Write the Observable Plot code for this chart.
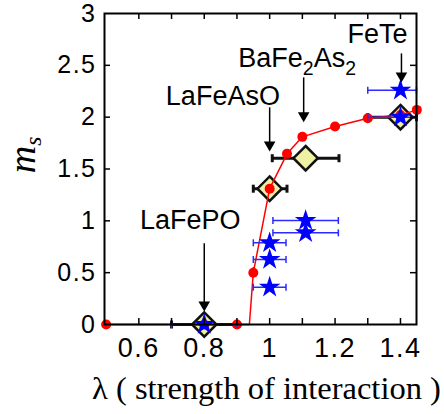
<!DOCTYPE html>
<html><head><meta charset="utf-8">
<script src="https://cdn.jsdelivr.net/npm/d3@7"></script>
<script src="https://cdn.jsdelivr.net/npm/@observablehq/plot@0.6"></script>
<style>
body{margin:0;background:#fff}
g[aria-label="x-axis tick label"] text, g[aria-label="y-axis tick label"] text {letter-spacing:1.5px}
</style>
</head><body><div id="chart"></div>
<script>
// ---- data ----
const xTicks = [0.6, 0.8, 1.0, 1.2, 1.4];
const xMinor = [0.6, 0.7, 0.8, 0.9, 1.0, 1.1, 1.2, 1.3, 1.4];
const yTicks = [0, 0.5, 1, 1.5, 2, 2.5, 3];

// red theory curve
const curveLam = [0.5, 0.9, 0.938, 0.95, 1.0, 1.053, 1.1, 1.2, 1.3, 1.4, 1.45];
const curveMs  = [0, 0, 0, 0.5, 1.31, 1.646, 1.81, 1.91, 1.99, 2.02, 2.07];
// red computed points
const redLam = [0.5, 0.8, 0.9, 0.95, 1.0, 1.053, 1.1, 1.2, 1.3, 1.4, 1.45];
const redMs  = [0, 0, 0, 0.5, 1.31, 1.646, 1.81, 1.91, 1.99, 2.02, 2.07];
const redErr = [0, 0, 0, 0.05, 0, 0, 0, 0, 0, 0, 0];

// yellow diamonds (with lambda range)
const diaLam = [0.8, 1.0, 1.11, 1.4];
const diaMs  = [0, 1.31, 1.604, 2.0];
const diaLo  = [0.7, 0.95, 1.008, 1.3];
const diaHi  = [0.9, 1.053, 1.212, 1.449];

// blue stars (experiment, with lambda range)
const starLam = [0.8, 1.0, 1.0, 1.0, 1.11, 1.11, 1.4, 1.4];
const starMs  = [0, 0.36, 0.627, 0.788, 0.884, 1.003, 2.26, 2.0];
const starLo  = [0.7, 0.95, 0.95, 0.95, 1.01, 1.01, 1.3, 1.3];
const starHi  = [0.9, 1.05, 1.05, 1.05, 1.21, 1.21, 1.449, 1.449];

// annotations
const labelNames = ["LaFePO", "LaFeAsO", "BaFe2As2", "FeTe"];
const labelLam = [0.757, 0.857, 1.084, 1.330];
const labelMs  = [1.0, 2.20, 2.565, 2.80];
const arrowLam = [0.8, 1.0, 1.104, 1.403];
const arrowTop = [0.778, 2.09, 2.379, 2.61];
const arrowTip = [0.151, 1.694, 1.977, 2.36];

const xLabel = "λ ( strength of interaction )";
const yLabel = "ms";

// ---- tables ----
const curve = curveLam.map((x, i) => ({x, y: curveMs[i]}));
const red = redLam.map((x, i) => ({x, y: redMs[i], e: redErr[i]}));
const dia = diaLam.map((x, i) => ({x, y: diaMs[i], lo: diaLo[i], hi: diaHi[i]}));
const stars = starLam.map((x, i) => ({x, y: starMs[i], lo: starLo[i], hi: starHi[i]}));
const labels = labelNames.map((t, i) => ({t, x: labelLam[i], y: labelMs[i]}));
const arrows = arrowLam.map((x, i) => ({x, y1: arrowTop[i], y2: arrowTip[i]}));

const W = 444, H = 414, mL = 104, mR = 28, mT = 13, mB = 90;
const plotW = W - mL - mR, plotH = H - mT - mB, tl = 6;

const vbar = {draw(ctx, size) { const h = Math.sqrt(size / Math.PI); ctx.moveTo(0, -h); ctx.lineTo(0, h); }};
const sans = "'Liberation Sans', Arial, Helvetica, sans-serif";
const serif = "'Liberation Serif', 'Times New Roman', serif";

const chart = Plot.plot({
  width: W, height: H,
  marginLeft: mL, marginRight: mR, marginTop: mT, marginBottom: mB,
  style: {background: "#fff", fontFamily: sans, color: "#000"},
  x: {domain: [0.495, 1.449]},
  y: {domain: [0, 3]},
  marks: [
    // diamond error bars
    Plot.link(dia, {x1: "lo", x2: "hi", y1: "y", y2: "y", stroke: "#111", strokeWidth: 3}),
    Plot.dot(dia, {x: "lo", y: "y", symbol: vbar, r: 4, stroke: "#111", strokeWidth: 3}),
    Plot.dot(dia, {x: "hi", y: "y", symbol: vbar, r: 4, stroke: "#111", strokeWidth: 3}),
    Plot.dot(dia, {x: "x", y: "y", symbol: "diamond2", r: 11, fill: "#eef0a2", stroke: "#111", strokeWidth: 2.5}),
    // red curve
    Plot.line(curve, {x: "x", y: "y", stroke: "#ff0000", strokeWidth: 1.5}),
    Plot.ruleX(red.filter(d => d.e > 0), {x: "x", y1: d => d.y - d.e, y2: d => d.y + d.e, stroke: "#ff0000", strokeWidth: 1.5}),
    Plot.dot(red, {x: "x", y: "y", r: 5, fill: "#ff0000"}),
    // stars
    Plot.link(stars, {x1: "lo", x2: "hi", y1: "y", y2: "y", stroke: "#2b2bff", strokeWidth: 1.5}),
    Plot.dot(stars, {x: "lo", y: "y", symbol: vbar, r: 3.5, stroke: "#2b2bff", strokeWidth: 1.5}),
    Plot.dot(stars, {x: "hi", y: "y", symbol: vbar, r: 3.5, stroke: "#2b2bff", strokeWidth: 1.5}),
    Plot.dot(stars, {x: "x", y: "y", symbol: "star", r: 6.8, fill: "#0000ff"}),
    // arrows
    Plot.ruleX(arrows, {x: "x", y1: "y1", y2: "y2", stroke: "#000", strokeWidth: 1.5}),
    Plot.dot(arrows, {x: "x", y: "y2", symbol: "triangle", rotate: 180, r: 4.3, fill: "#000", dy: -4}),
    Plot.text(labels, {x: "x", y: "y", text: "t", fontSize: 27, fontFamily: sans, fill: "#000", textAnchor: "middle", lineAnchor: "middle"}),
    // frame and inward ticks
    Plot.frame({stroke: "#000", strokeWidth: 2}),
    Plot.tickX(xMinor, {x: d => d, insetTop: plotH - tl, stroke: "#000", strokeWidth: 1.5}),
    Plot.tickX(xMinor, {x: d => d, insetBottom: plotH - tl, stroke: "#000", strokeWidth: 1.5}),
    Plot.tickY(yTicks.slice(1, -1), {y: d => d, insetRight: plotW - tl, stroke: "#000", strokeWidth: 1.5}),
    Plot.tickY(yTicks.slice(1, -1), {y: d => d, insetLeft: plotW - tl, stroke: "#000", strokeWidth: 1.5}),
    Plot.axisX(xTicks, {anchor: "bottom", tickSize: 0, tickPadding: 13, fontSize: 27, label: null, tickFormat: d => String(d)}),
    Plot.axisY(yTicks, {anchor: "left", tickSize: 0, tickPadding: 8, fontSize: 25, label: null, tickFormat: d => String(d)}),
    Plot.text([xLabel], {frameAnchor: "bottom", dx: 6, dy: 64, fontSize: 32.5, fontFamily: serif, fill: "#000", textAnchor: "middle", lineAnchor: "middle"}),
    Plot.text([yLabel], {frameAnchor: "left", dx: -(mL - 22), dy: -14, rotate: -90, fontSize: 38, fontFamily: serif, fontStyle: "italic", fill: "#000", textAnchor: "middle", lineAnchor: "middle"})
  ]
});

// subscripts
chart.querySelectorAll("text").forEach(t => {
  if (t.textContent === "BaFe2As2") {
    t.textContent = "";
    const fs = 27;
    const parts = [["BaFe", 0, null], ["2", 0.3, "0.72em"], ["As", -0.3, null], ["2", 0.3, "0.72em"]];
    parts.forEach(([s, sh, size]) => {
      const ts = document.createElementNS("http://www.w3.org/2000/svg", "tspan");
      ts.textContent = s;
      if (sh !== 0) ts.setAttribute("dy", (sh * fs) + "px");
      if (size) ts.setAttribute("font-size", size);
      t.appendChild(ts);
    });
  } else if (t.textContent === "ms") {
    t.textContent = "";
    const a = document.createElementNS("http://www.w3.org/2000/svg", "tspan");
    a.textContent = "m";
    const b = document.createElementNS("http://www.w3.org/2000/svg", "tspan");
    b.textContent = "s";
    b.setAttribute("font-size", "0.62em");
    b.setAttribute("dy", "0.28em");
    t.appendChild(a); t.appendChild(b);
  }
});

document.getElementById("chart").appendChild(chart);
</script>
</body></html>
